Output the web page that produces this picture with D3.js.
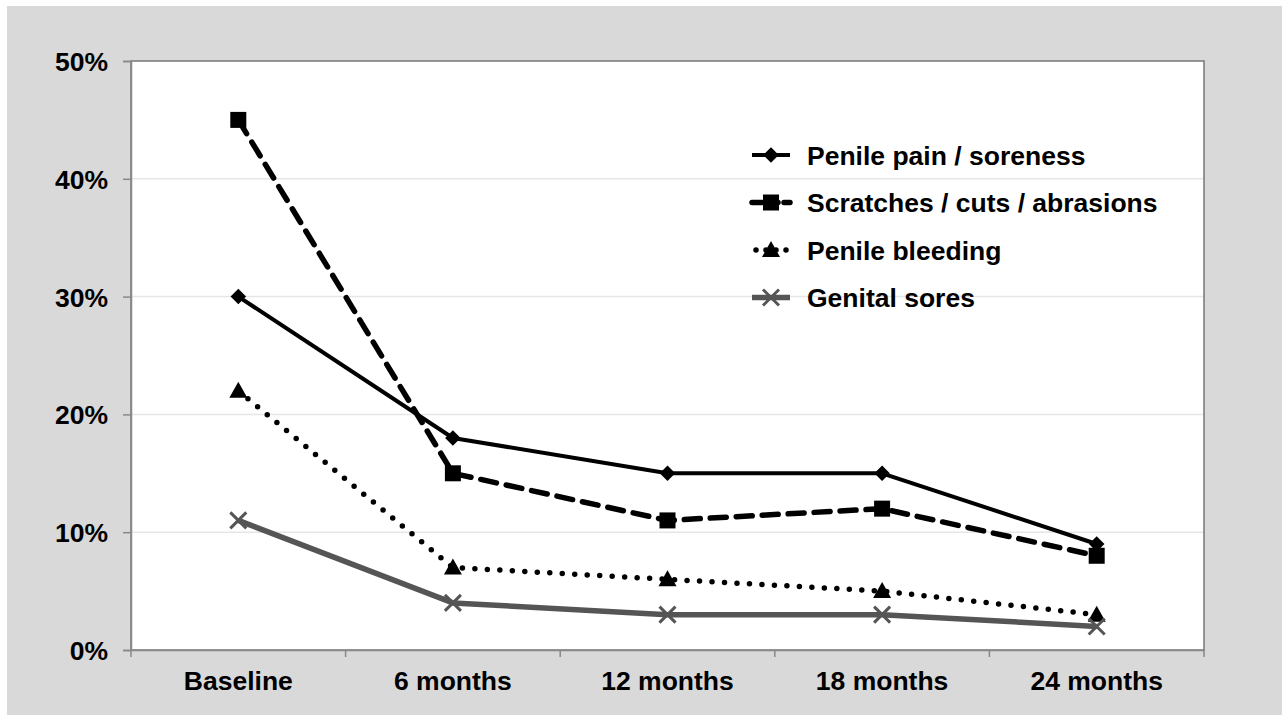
<!DOCTYPE html>
<meta charset="utf-8">
<style>
body{margin:0;background:#fff;}
text{font-family:"Liberation Sans",Arial,Helvetica,sans-serif;font-weight:bold;fill:#000;}
.grid line{stroke:#e6e6e6;stroke-width:1.5px;}
</style>
<body>
<script src="https://d3js.org/d3.v7.min.js"></script>
<script>

var periods=["Baseline","6 months","12 months","18 months","24 months"];
var pain=[30,18,15,15,9];
var scratches=[45,15,11,12,8];
var bleeding=[22,7,6,5,3];
var sores=[11,4,3,3,2];
var yTicks=[0,10,20,30,40,50];

var series=[
  {name:"Penile pain / soreness",vals:pain,color:"#000",width:4,dash:null,cap:"butt",marker:"diamond"},
  {name:"Scratches / cuts / abrasions",vals:scratches,color:"#000",width:5.5,dash:"16,10",cap:"round",marker:"square"},
  {name:"Penile bleeding",vals:bleeding,color:"#000",width:5.5,dash:"0,12.5",cap:"round",marker:"triangle"},
  {name:"Genital sores",vals:sores,color:"#555",width:5.5,dash:null,cap:"butt",marker:"cross"}
];

var W=1283,H=719,FS="26.5px";
var svg=d3.select("body").append("svg").attr("width",W).attr("height",H);
svg.append("rect").attr("x",7).attr("y",6).attr("width",1275).attr("height",709).attr("fill","#d9d9d9");

var L=131,R=1204,T=61,B=650;
var x=d3.scaleBand().domain(periods).range([L,R]);
var y=d3.scaleLinear().domain([0,50]).range([B,T]);

svg.append("rect").attr("x",L).attr("y",T).attr("width",R-L).attr("height",B-T).attr("fill","#fff");

svg.append("g").attr("class","grid").selectAll("line").data(yTicks.slice(1,-1)).join("line")
  .attr("x1",L).attr("x2",R).attr("y1",d=>y(d)).attr("y2",d=>y(d));

svg.append("rect").attr("x",L).attr("y",T).attr("width",R-L).attr("height",B-T)
  .attr("fill","none").attr("stroke","#777").attr("stroke-width",1.5);

// y axis
var ya=svg.append("g").attr("transform","translate("+L+",0)")
  .call(d3.axisLeft(y).tickValues(yTicks).tickSize(8).tickPadding(15).tickFormat(d=>d+"%"));
ya.select(".domain").attr("stroke","#888").attr("stroke-width",1.5);
ya.selectAll(".tick line").attr("stroke","#888").attr("stroke-width",1.5);
ya.selectAll("text").style("font-size",FS).attr("dy","0.36em");

// x axis
var xa=svg.append("g").attr("transform","translate(0,"+B+")")
  .call(d3.axisBottom(x).tickSize(0).tickPadding(21));
xa.select(".domain").attr("stroke","#888").attr("stroke-width",1.5);
xa.selectAll("text").style("font-size",FS).attr("dy","0.71em");
xa.selectAll(".btick").data(d3.range(periods.length+1)).join("line")
  .attr("x1",i=>L+i*x.step()).attr("x2",i=>L+i*x.step()).attr("y1",0).attr("y2",7)
  .attr("stroke","#888").attr("stroke-width",1.5);

function drawMarker(g,type,cx,cy,color){
  if(type=="diamond"){
    g.append("path").attr("d",d3.symbol(d3.symbolSquare,120)()).attr("fill",color)
      .attr("transform","translate("+cx+","+cy+") rotate(45)");
  }else if(type=="square"){
    g.append("rect").attr("x",cx-8).attr("y",cy-8).attr("width",16).attr("height",16).attr("fill",color);
  }else if(type=="triangle"){
    g.append("path").attr("d","M"+cx+","+(cy-9)+"L"+(cx+9)+","+(cy+7)+"L"+(cx-9)+","+(cy+7)+"Z").attr("fill",color);
  }else if(type=="cross"){
    g.append("path").attr("d","M"+(cx-8)+","+(cy-8)+"L"+(cx+8)+","+(cy+8)+"M"+(cx+8)+","+(cy-8)+"L"+(cx-8)+","+(cy+8))
      .attr("stroke",color).attr("stroke-width",3).attr("fill","none");
  }
}

var line=d3.line().x((d,i)=>x(periods[i])+x.bandwidth()/2).y(d=>y(d));

series.forEach(function(s){
  var g=svg.append("g");
  g.append("path").attr("d",line(s.vals)).attr("fill","none").attr("stroke",s.color)
    .attr("stroke-width",s.width).attr("stroke-dasharray",s.dash).attr("stroke-linecap",s.cap)
    .attr("stroke-linejoin","round");
  s.vals.forEach(function(v,i){
    drawMarker(g,s.marker,x(periods[i])+x.bandwidth()/2,y(v),s.color);
  });
});

// legend
var leg=svg.append("g");
series.forEach(function(s,i){
  var ly=155+i*47.5;
  var dash=s.marker=="triangle"?"0,10":(s.marker=="square"?"10,6":null);
  var lx1=s.marker=="triangle"?756:752;
  var lx2=s.marker=="triangle"?788:790;
  leg.append("line").attr("x1",lx1).attr("x2",lx2).attr("y1",ly).attr("y2",ly)
    .attr("stroke",s.color).attr("stroke-width",s.width).attr("stroke-dasharray",dash).attr("stroke-linecap",s.cap);
  drawMarker(leg,s.marker,771,ly,s.color);
  leg.append("text").attr("x",807).attr("y",ly).attr("dy","0.36em").style("font-size",FS).text(s.name);
});
</script>
</body>
